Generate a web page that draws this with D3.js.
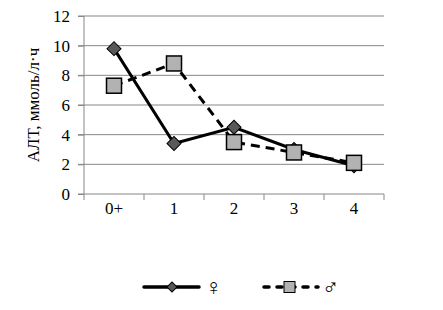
<!DOCTYPE html>
<html>
<head>
<meta charset="utf-8">
<script src="https://cdn.jsdelivr.net/npm/d3@7"></script>
<style>
  body { margin: 0; background: #fff; }
  text { font-family: "Liberation Serif", "Times New Roman", serif; fill: #000; }
</style>
</head>
<body>
<div id="chart"></div>
<script>
const categories = ['0+', '1', '2', '3', '4'];
const female = [9.8, 3.4, 4.5, 3.0, 1.9];
const male = [7.3, 8.8, 3.5, 2.8, 2.1];
const yTicks = [0, 2, 4, 6, 8, 10, 12];
const yLabel = 'АЛТ, ммоль/л·ч';

const width = 443, height = 310;
const margin = { top: 16, right: 59, bottom: 116, left: 84 };

const svg = d3.select('#chart').append('svg')
  .attr('width', width)
  .attr('height', height);

const x = d3.scaleBand().domain(categories)
  .range([margin.left, width - margin.right]);
const y = d3.scaleLinear().domain([0, 12])
  .range([height - margin.bottom, margin.top]);

// grid
svg.append('g').selectAll('line')
  .data(yTicks.filter(d => d > 0))
  .enter().append('line')
  .attr('x1', margin.left - 6).attr('x2', width - margin.right)
  .attr('y1', d => y(d)).attr('y2', d => y(d))
  .attr('stroke', '#878787').attr('stroke-width', 1);

// y axis
const yAxis = svg.append('g')
  .attr('transform', `translate(${margin.left},0)`)
  .call(d3.axisLeft(y).tickValues(yTicks).tickSize(6).tickPadding(8));
yAxis.attr('font-family', null);
yAxis.selectAll('text').attr('font-size', 17);
yAxis.selectAll('line, path').attr('stroke', '#878787');
yAxis.select('path').attr('d', `M0,${y(0)}V${y(12)}`);

// x axis
const x0 = height - margin.bottom;
const xg = svg.append('g');
xg.append('line')
  .attr('x1', margin.left - 6).attr('x2', width - margin.right)
  .attr('y1', x0).attr('y2', x0)
  .attr('stroke', '#878787');
const bounds = categories.map(c => x(c)).concat([x(categories[categories.length - 1]) + x.bandwidth()]);
xg.selectAll('.tk').data(bounds).enter().append('line')
  .attr('x1', d => d).attr('x2', d => d)
  .attr('y1', x0).attr('y2', x0 + 6)
  .attr('stroke', '#878787');
xg.selectAll('.lbl').data(categories).enter().append('text')
  .attr('x', d => x(d) + x.bandwidth() / 2)
  .attr('y', x0 + 20)
  .attr('text-anchor', 'middle')
  .attr('font-size', 17)
  .text(d => d);

// y label
svg.append('text')
  .attr('transform', `translate(39,${y(6)}) rotate(-90)`)
  .attr('text-anchor', 'middle')
  .attr('font-size', 17)
  .text(yLabel);

const cx = d => x(d) + x.bandwidth() / 2;
const line = d3.line().x(d => cx(d.c)).y(d => y(d.v));
const fData = categories.map((c, i) => ({ c, v: female[i] }));
const mData = categories.map((c, i) => ({ c, v: male[i] }));

svg.append('path').datum(mData)
  .attr('d', line).attr('fill', 'none')
  .attr('stroke', '#000').attr('stroke-width', 3)
  .attr('stroke-dasharray', '9,6');
svg.append('path').datum(fData)
  .attr('d', line).attr('fill', 'none')
  .attr('stroke', '#000').attr('stroke-width', 3);

const diamond = d3.symbol().type(d3.symbolSquare).size(98);
svg.selectAll('.fm').data(fData).enter().append('path')
  .attr('d', diamond)
  .attr('transform', d => `translate(${cx(d.c)},${y(d.v)}) rotate(45)`)
  .attr('fill', '#595959').attr('stroke', '#000').attr('stroke-width', 1);
svg.selectAll('.mm').data(mData).enter().append('rect')
  .attr('x', d => cx(d.c) - 7.5).attr('y', d => y(d.v) - 7.5)
  .attr('width', 15).attr('height', 15)
  .attr('fill', '#b2b2b2').attr('stroke', '#000').attr('stroke-width', 1.5);

// legend
const ly = 287;
const lg = svg.append('g');
lg.append('line').attr('x1', 144).attr('x2', 199).attr('y1', ly).attr('y2', ly)
  .attr('stroke', '#000').attr('stroke-width', 3.5).attr('stroke-linecap', 'round');
lg.append('path').attr('d', d3.symbol().type(d3.symbolSquare).size(50))
  .attr('transform', `translate(172,${ly}) rotate(45)`)
  .attr('fill', '#595959').attr('stroke', '#000').attr('stroke-width', 1);
lg.append('text').attr('x', 205).attr('y', ly + 8).attr('font-size', 23)
  .attr('fill', '#444').text('♀');
lg.append('line').attr('x1', 264).attr('x2', 318).attr('y1', ly).attr('y2', ly)
  .attr('stroke', '#000').attr('stroke-width', 3.5).attr('stroke-linecap', 'round')
  .attr('stroke-dasharray', '5,8');
lg.append('rect').attr('x', 284).attr('y', ly - 5.5).attr('width', 11).attr('height', 11)
  .attr('fill', '#b2b2b2').attr('stroke', '#000').attr('stroke-width', 1);
lg.append('text').attr('x', 322).attr('y', ly + 8).attr('font-size', 23)
  .attr('fill', '#444').text('♂');
</script>
</body>
</html>
